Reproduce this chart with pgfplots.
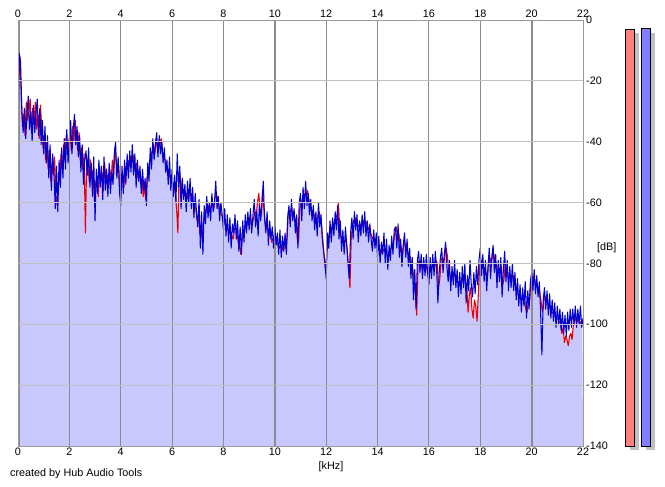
\documentclass[border=0pt]{standalone}
\usepackage{fontspec}
\setmainfont{Liberation Sans}
\usepackage{pgfplots}
\usepackage{pgfplotstable}
\pgfplotsset{compat=1.18}
\definecolor{lav}{RGB}{200,200,255}
\definecolor{bl}{RGB}{0,0,210}
\definecolor{rd}{RGB}{240,0,0}
\definecolor{gridv}{RGB}{140,140,140}
\definecolor{gridh}{RGB}{192,192,192}
\definecolor{barr}{RGB}{255,128,128}
\definecolor{barb}{RGB}{128,128,255}
\definecolor{shad}{RGB}{192,192,192}

\pgfplotstableread[row sep=\\]{
f db\\
0 -36\\ 0.05 -11\\ 0.1 -14\\ 0.15 -30\\ 0.2 -37\\ 0.25 -29\\ 0.3 -39\\ 0.35 -31\\ 0.4 -25\\ 0.45 -36\\
0.5 -30\\ 0.55 -40\\ 0.6 -28\\ 0.65 -37\\ 0.7 -31\\ 0.75 -26\\ 0.8 -38\\ 0.85 -29\\ 0.9 -41\\ 0.95 -33\\
1.0 -44\\ 1.05 -35\\ 1.1 -47\\ 1.15 -38\\ 1.2 -52\\ 1.25 -41\\ 1.3 -56\\ 1.35 -44\\ 1.4 -50\\ 1.45 -62\\
1.5 -48\\ 1.55 -63\\ 1.6 -46\\ 1.65 -55\\ 1.7 -42\\ 1.75 -52\\ 1.8 -39\\ 1.85 -49\\ 1.9 -36\\ 1.95 -47\\
2.0 -40\\ 2.05 -33\\ 2.1 -44\\ 2.15 -36\\ 2.2 -31\\ 2.25 -41\\ 2.3 -35\\ 2.35 -45\\ 2.4 -38\\ 2.45 -50\\
2.5 -41\\ 2.55 -54\\ 2.6 -46\\ 2.65 -43\\ 2.7 -51\\ 2.75 -42\\ 2.8 -55\\ 2.85 -47\\ 2.9 -58\\ 2.95 -45\\
3.0 -66\\ 3.05 -49\\ 3.1 -57\\ 3.15 -46\\ 3.2 -55\\ 3.25 -48\\ 3.3 -59\\ 3.35 -45\\ 3.4 -56\\ 3.45 -49\\
3.5 -58\\ 3.55 -47\\ 3.6 -57\\ 3.65 -50\\ 3.7 -54\\ 3.75 -44\\ 3.8 -40\\ 3.85 -52\\ 3.9 -45\\ 3.95 -56\\
4.0 -61\\ 4.05 -48\\ 4.1 -57\\ 4.15 -46\\ 4.2 -54\\ 4.25 -44\\ 4.3 -52\\ 4.35 -43\\ 4.4 -50\\ 4.45 -41\\
4.5 -51\\ 4.55 -44\\ 4.6 -55\\ 4.65 -46\\ 4.7 -53\\ 4.75 -48\\ 4.8 -57\\ 4.85 -49\\ 4.9 -56\\ 4.95 -52\\
5.0 -61\\ 5.05 -47\\ 5.1 -53\\ 5.15 -42\\ 5.2 -49\\ 5.25 -39\\ 5.3 -46\\ 5.35 -41\\ 5.4 -37\\ 5.45 -45\\
5.5 -38\\ 5.55 -44\\ 5.6 -40\\ 5.65 -47\\ 5.7 -42\\ 5.75 -50\\ 5.8 -46\\ 5.85 -54\\ 5.9 -45\\ 5.95 -56\\
6.0 -49\\ 6.05 -58\\ 6.1 -51\\ 6.15 -60\\ 6.2 -44\\ 6.25 -55\\ 6.3 -48\\ 6.35 -62\\ 6.4 -52\\ 6.45 -59\\
6.5 -54\\ 6.55 -63\\ 6.6 -53\\ 6.65 -60\\ 6.7 -52\\ 6.75 -62\\ 6.8 -55\\ 6.85 -65\\ 6.9 -57\\ 6.95 -63\\
7.0 -68\\ 7.05 -59\\ 7.1 -75\\ 7.15 -63\\ 7.2 -77\\ 7.25 -61\\ 7.3 -67\\ 7.35 -58\\ 7.4 -65\\ 7.45 -60\\
7.5 -66\\ 7.55 -57\\ 7.6 -63\\ 7.65 -60\\ 7.7 -53\\ 7.75 -62\\ 7.8 -58\\ 7.85 -66\\ 7.9 -60\\ 7.95 -64\\
8.0 -69\\ 8.05 -62\\ 8.1 -71\\ 8.15 -64\\ 8.2 -73\\ 8.25 -65\\ 8.3 -75\\ 8.35 -67\\ 8.4 -70\\ 8.45 -64\\
8.5 -72\\ 8.55 -66\\ 8.6 -76\\ 8.65 -68\\ 8.7 -77\\ 8.75 -66\\ 8.8 -73\\ 8.85 -64\\ 8.9 -70\\ 8.95 -63\\
9.0 -69\\ 9.05 -62\\ 9.1 -70\\ 9.15 -64\\ 9.2 -59\\ 9.25 -68\\ 9.3 -63\\ 9.35 -71\\ 9.4 -61\\ 9.45 -66\\
9.5 -60\\ 9.55 -53\\ 9.6 -65\\ 9.65 -70\\ 9.7 -63\\ 9.75 -74\\ 9.8 -66\\ 9.85 -72\\ 9.9 -68\\ 9.95 -75\\
10.0 -68\\ 10.05 -74\\ 10.1 -70\\ 10.15 -77\\ 10.2 -69\\ 10.25 -78\\ 10.3 -71\\ 10.35 -76\\ 10.4 -70\\ 10.45 -77\\
10.5 -65\\ 10.55 -61\\ 10.6 -68\\ 10.65 -59\\ 10.7 -66\\ 10.75 -62\\ 10.8 -70\\ 10.85 -64\\ 10.9 -75\\ 10.95 -60\\
11.0 -57\\ 11.05 -66\\ 11.1 -55\\ 11.15 -62\\ 11.2 -53\\ 11.25 -61\\ 11.3 -57\\ 11.35 -64\\ 11.4 -59\\ 11.45 -66\\
11.5 -61\\ 11.55 -69\\ 11.6 -63\\ 11.65 -71\\ 11.7 -60\\ 11.75 -68\\ 11.8 -64\\ 11.85 -72\\ 11.9 -76\\ 11.95 -80\\
12.0 -85\\ 12.05 -70\\ 12.1 -75\\ 12.15 -66\\ 12.2 -73\\ 12.25 -65\\ 12.3 -71\\ 12.35 -63\\ 12.4 -69\\ 12.45 -61\\
12.5 -72\\ 12.55 -66\\ 12.6 -76\\ 12.65 -69\\ 12.7 -77\\ 12.75 -68\\ 12.8 -74\\ 12.85 -80\\ 12.9 -85\\ 12.95 -70\\
13.0 -65\\ 13.05 -72\\ 13.1 -63\\ 13.15 -69\\ 13.2 -64\\ 13.25 -73\\ 13.3 -66\\ 13.35 -71\\ 13.4 -64\\ 13.45 -70\\
13.5 -63\\ 13.55 -71\\ 13.6 -66\\ 13.65 -73\\ 13.7 -67\\ 13.75 -72\\ 13.8 -76\\ 13.85 -69\\ 13.9 -75\\ 13.95 -70\\
14.0 -78\\ 14.05 -71\\ 14.1 -80\\ 14.15 -73\\ 14.2 -77\\ 14.25 -70\\ 14.3 -80\\ 14.35 -72\\ 14.4 -82\\ 14.45 -74\\
14.5 -79\\ 14.55 -71\\ 14.6 -77\\ 14.65 -69\\ 14.7 -68\\ 14.75 -75\\ 14.8 -67\\ 14.85 -78\\ 14.9 -72\\ 14.95 -81\\
15.0 -74\\ 15.05 -70\\ 15.1 -78\\ 15.15 -72\\ 15.2 -81\\ 15.25 -75\\ 15.3 -85\\ 15.35 -78\\ 15.4 -92\\ 15.45 -82\\
15.5 -95\\ 15.55 -79\\ 15.6 -76\\ 15.65 -83\\ 15.7 -77\\ 15.75 -85\\ 15.8 -78\\ 15.85 -84\\ 15.9 -77\\ 15.95 -83\\
16.0 -87\\ 16.05 -78\\ 16.1 -85\\ 16.15 -77\\ 16.2 -84\\ 16.25 -76\\ 16.3 -82\\ 16.35 -93\\ 16.4 -83\\ 16.45 -78\\
16.5 -75\\ 16.55 -83\\ 16.6 -77\\ 16.65 -73\\ 16.7 -81\\ 16.75 -86\\ 16.8 -79\\ 16.85 -89\\ 16.9 -81\\ 16.95 -87\\
17.0 -79\\ 17.05 -88\\ 17.1 -82\\ 17.15 -91\\ 17.2 -83\\ 17.25 -90\\ 17.3 -81\\ 17.35 -88\\ 17.4 -80\\ 17.45 -93\\
17.5 -84\\ 17.55 -89\\ 17.6 -79\\ 17.65 -87\\ 17.7 -91\\ 17.75 -83\\ 17.8 -90\\ 17.85 -81\\ 17.9 -87\\ 17.95 -79\\
18.0 -75\\ 18.05 -84\\ 18.1 -77\\ 18.15 -86\\ 18.2 -79\\ 18.25 -89\\ 18.3 -81\\ 18.35 -75\\ 18.4 -85\\ 18.45 -78\\
18.5 -74\\ 18.55 -83\\ 18.6 -77\\ 18.65 -88\\ 18.7 -79\\ 18.75 -86\\ 18.8 -78\\ 18.85 -91\\ 18.9 -82\\ 18.95 -76\\
19.0 -86\\ 19.05 -79\\ 19.1 -89\\ 19.15 -81\\ 19.2 -88\\ 19.25 -80\\ 19.3 -89\\ 19.35 -83\\ 19.4 -92\\ 19.45 -85\\
19.5 -94\\ 19.55 -87\\ 19.6 -96\\ 19.65 -88\\ 19.7 -94\\ 19.75 -86\\ 19.8 -98\\ 19.85 -89\\ 19.9 -95\\ 19.95 -86\\
20.0 -83\\ 20.05 -89\\ 20.1 -82\\ 20.15 -90\\ 20.2 -84\\ 20.25 -91\\ 20.3 -86\\ 20.35 -96\\ 20.4 -110\\ 20.45 -92\\
20.5 -88\\ 20.55 -95\\ 20.6 -89\\ 20.65 -97\\ 20.7 -90\\ 20.75 -98\\ 20.8 -92\\ 20.85 -99\\ 20.9 -93\\ 20.95 -101\\
21.0 -94\\ 21.05 -100\\ 21.1 -95\\ 21.15 -102\\ 21.2 -96\\ 21.25 -103\\ 21.3 -97\\ 21.35 -104\\ 21.4 -96\\ 21.45 -102\\
21.5 -95\\ 21.55 -101\\ 21.6 -95\\ 21.65 -100\\ 21.7 -94\\ 21.75 -101\\ 21.8 -95\\ 21.85 -100\\ 21.9 -94\\ 21.95 -101\\
22.0 -98\\
}\bluedata

\pgfplotstableread[row sep=\\]{
f db\\
0.025 -20\\ 0.075 -12\\ 0.125 -24\\ 0.175 -35\\ 0.225 -31\\ 0.275 -38\\ 0.325 -27\\ 0.375 -33\\ 0.425 -30\\ 0.475 -26\\
0.525 -37\\ 0.575 -29\\ 0.625 -34\\ 0.675 -27\\ 0.725 -36\\ 0.775 -31\\ 0.825 -39\\ 0.875 -28\\ 0.925 -36\\ 0.975 -42\\
1.025 -38\\ 1.075 -46\\ 1.125 -40\\ 1.175 -49\\ 1.225 -43\\ 1.275 -53\\ 1.325 -47\\ 1.375 -51\\ 1.425 -45\\ 1.475 -58\\
1.525 -61\\ 1.575 -50\\ 1.625 -53\\ 1.675 -44\\ 1.725 -50\\ 1.775 -41\\ 1.825 -46\\ 1.875 -38\\ 1.925 -44\\ 1.975 -40\\
2.025 -37\\ 2.075 -43\\ 2.125 -35\\ 2.175 -40\\ 2.225 -33\\ 2.275 -38\\ 2.325 -43\\ 2.375 -37\\ 2.425 -46\\ 2.475 -42\\
2.525 -49\\ 2.575 -44\\ 2.625 -70\\ 2.675 -45\\ 2.725 -48\\ 2.775 -53\\ 2.825 -46\\ 2.875 -52\\ 2.925 -49\\ 2.975 -60\\
3.025 -54\\ 3.075 -51\\ 3.125 -58\\ 3.175 -48\\ 3.225 -53\\ 3.275 -50\\ 3.325 -56\\ 3.375 -47\\ 3.425 -54\\ 3.475 -51\\
3.525 -55\\ 3.575 -49\\ 3.625 -53\\ 3.675 -46\\ 3.725 -51\\ 3.775 -42\\ 3.825 -47\\ 3.875 -50\\ 3.925 -48\\ 3.975 -58\\
4.025 -54\\ 4.075 -50\\ 4.125 -55\\ 4.175 -48\\ 4.225 -51\\ 4.275 -46\\ 4.325 -48\\ 4.375 -45\\ 4.425 -47\\ 4.475 -44\\
4.525 -48\\ 4.575 -50\\ 4.625 -47\\ 4.675 -52\\ 4.725 -50\\ 4.775 -54\\ 4.825 -52\\ 4.875 -58\\ 4.925 -55\\ 4.975 -59\\
5.025 -52\\ 5.075 -50\\ 5.125 -46\\ 5.175 -45\\ 5.225 -43\\ 5.275 -41\\ 5.325 -44\\ 5.375 -39\\ 5.425 -42\\ 5.475 -40\\
5.525 -41\\ 5.575 -39\\ 5.625 -43\\ 5.675 -45\\ 5.725 -46\\ 5.775 -48\\ 5.825 -51\\ 5.875 -49\\ 5.925 -52\\ 5.975 -53\\
6.025 -55\\ 6.075 -54\\ 6.125 -57\\ 6.175 -62\\ 6.225 -70\\ 6.275 -50\\ 6.325 -52\\ 6.375 -55\\ 6.425 -57\\ 6.475 -56\\
6.525 -58\\ 6.575 -57\\ 6.625 -59\\ 6.675 -56\\ 6.725 -58\\ 6.775 -57\\ 6.825 -60\\ 6.875 -61\\ 6.925 -62\\ 6.975 -66\\
7.025 -64\\ 7.075 -70\\ 7.125 -68\\ 7.175 -72\\ 7.225 -66\\ 7.275 -64\\ 7.325 -62\\ 7.375 -63\\ 7.425 -61\\ 7.475 -62\\
7.525 -61\\ 7.575 -60\\ 7.625 -62\\ 7.675 -58\\ 7.725 -57\\ 7.775 -59\\ 7.825 -61\\ 7.875 -63\\ 7.925 -64\\ 7.975 -65\\
8.025 -66\\ 8.075 -67\\ 8.125 -68\\ 8.175 -69\\ 8.225 -70\\ 8.275 -69\\ 8.325 -71\\ 8.375 -72\\ 8.425 -69\\ 8.475 -68\\
8.525 -70\\ 8.575 -73\\ 8.625 -74\\ 8.675 -77\\ 8.725 -72\\ 8.775 -70\\ 8.825 -69\\ 8.875 -68\\ 8.925 -67\\ 8.975 -66\\
9.025 -65\\ 9.075 -66\\ 9.125 -67\\ 9.175 -65\\ 9.225 -63\\ 9.275 -64\\ 9.325 -60\\ 9.375 -57\\ 9.425 -62\\ 9.475 -64\\
9.525 -56\\ 9.575 -62\\ 9.625 -67\\ 9.675 -68\\ 9.725 -69\\ 9.775 -71\\ 9.825 -70\\ 9.875 -73\\ 9.925 -72\\ 9.975 -71\\
10.025 -72\\ 10.075 -73\\ 10.125 -74\\ 10.175 -75\\ 10.225 -74\\ 10.275 -76\\ 10.325 -74\\ 10.375 -73\\ 10.425 -75\\ 10.475 -72\\
10.525 -63\\ 10.575 -64\\ 10.625 -62\\ 10.675 -63\\ 10.725 -64\\ 10.775 -65\\ 10.825 -66\\ 10.875 -72\\ 10.925 -73\\ 10.975 -62\\
11.025 -60\\ 11.075 -59\\ 11.125 -58\\ 11.175 -57\\ 11.225 -58\\ 11.275 -56\\ 11.325 -59\\ 11.375 -61\\ 11.425 -62\\ 11.475 -63\\
11.525 -64\\ 11.575 -65\\ 11.625 -66\\ 11.675 -65\\ 11.725 -63\\ 11.775 -65\\ 11.825 -68\\ 11.875 -73\\ 11.925 -78\\ 11.975 -82\\
12.025 -76\\ 12.075 -72\\ 12.125 -70\\ 12.175 -69\\ 12.225 -68\\ 12.275 -67\\ 12.325 -66\\ 12.375 -65\\ 12.425 -64\\ 12.475 -60\\
12.525 -68\\ 12.575 -71\\ 12.625 -73\\ 12.675 -72\\ 12.725 -73\\ 12.775 -72\\ 12.825 -76\\ 12.875 -82\\ 12.925 -88\\ 12.975 -72\\
13.025 -67\\ 13.075 -66\\ 13.125 -65\\ 13.175 -66\\ 13.225 -67\\ 13.275 -68\\ 13.325 -67\\ 13.375 -68\\ 13.425 -66\\ 13.475 -67\\
13.525 -66\\ 13.575 -67\\ 13.625 -68\\ 13.675 -69\\ 13.725 -70\\ 13.775 -71\\ 13.825 -72\\ 13.875 -73\\ 13.925 -72\\ 13.975 -74\\
14.025 -75\\ 14.075 -76\\ 14.125 -77\\ 14.175 -75\\ 14.225 -76\\ 14.275 -75\\ 14.325 -76\\ 14.375 -77\\ 14.425 -78\\ 14.475 -76\\
14.525 -75\\ 14.575 -74\\ 14.625 -73\\ 14.675 -70\\ 14.725 -68\\ 14.775 -71\\ 14.825 -70\\ 14.875 -73\\ 14.925 -75\\ 14.975 -77\\
15.025 -73\\ 15.075 -74\\ 15.125 -75\\ 15.175 -76\\ 15.225 -77\\ 15.275 -78\\ 15.325 -80\\ 15.375 -82\\ 15.425 -86\\ 15.475 -90\\
15.525 -97\\ 15.575 -80\\ 15.625 -79\\ 15.675 -80\\ 15.725 -81\\ 15.775 -80\\ 15.825 -81\\ 15.875 -80\\ 15.925 -82\\ 15.975 -84\\
16.025 -83\\ 16.075 -82\\ 16.125 -81\\ 16.175 -80\\ 16.225 -81\\ 16.275 -79\\ 16.325 -80\\ 16.375 -88\\ 16.425 -85\\ 16.475 -79\\
16.525 -78\\ 16.575 -80\\ 16.625 -77\\ 16.675 -75\\ 16.725 -78\\ 16.775 -83\\ 16.825 -84\\ 16.875 -85\\ 16.925 -84\\ 16.975 -83\\
17.025 -84\\ 17.075 -85\\ 17.125 -86\\ 17.175 -87\\ 17.225 -86\\ 17.275 -86\\ 17.325 -85\\ 17.375 -84\\ 17.425 -86\\ 17.475 -88\\
17.525 -96\\ 17.575 -90\\ 17.625 -88\\ 17.675 -95\\ 17.725 -98\\ 17.775 -92\\ 17.825 -94\\ 17.875 -99\\ 17.925 -90\\ 17.975 -81\\
18.025 -79\\ 18.075 -80\\ 18.125 -81\\ 18.175 -82\\ 18.225 -83\\ 18.275 -85\\ 18.325 -80\\ 18.375 -78\\ 18.425 -80\\ 18.475 -77\\
18.525 -77\\ 18.575 -79\\ 18.625 -80\\ 18.675 -84\\ 18.725 -82\\ 18.775 -82\\ 18.825 -81\\ 18.875 -87\\ 18.925 -85\\ 18.975 -80\\
19.025 -82\\ 19.075 -84\\ 19.125 -85\\ 19.175 -84\\ 19.225 -85\\ 19.275 -84\\ 19.325 -86\\ 19.375 -88\\ 19.425 -89\\ 19.475 -90\\
19.525 -91\\ 19.575 -92\\ 19.625 -91\\ 19.675 -92\\ 19.725 -93\\ 19.775 -95\\ 19.825 -96\\ 19.875 -93\\ 19.925 -92\\ 19.975 -85\\
20.025 -84\\ 20.075 -85\\ 20.125 -86\\ 20.175 -87\\ 20.225 -88\\ 20.275 -88\\ 20.325 -90\\ 20.375 -93\\ 20.425 -96\\ 20.475 -92\\
20.525 -91\\ 20.575 -92\\ 20.625 -93\\ 20.675 -94\\ 20.725 -95\\ 20.775 -96\\ 20.825 -96\\ 20.875 -97\\ 20.925 -97\\ 20.975 -98\\
21.025 -98\\ 21.075 -99\\ 21.125 -100\\ 21.175 -103\\ 21.225 -101\\ 21.275 -106\\ 21.325 -104\\ 21.375 -105\\ 21.425 -107\\ 21.475 -104\\
21.525 -103\\ 21.575 -105\\ 21.625 -100\\ 21.675 -99\\ 21.725 -98\\ 21.775 -99\\ 21.825 -98\\ 21.875 -100\\ 21.925 -99\\ 21.975 -100\\
}\reddata

\begin{document}
\begin{tikzpicture}[font=\fontsize{10.8}{12}\selectfont]
\path[use as bounding box] (0pt,0pt) rectangle (665pt,487pt);
% level bars (decoration)
\fill[shad] (629.5pt,36.5pt) rectangle (638.5pt,453.5pt);
\fill[shad] (645.5pt,36.5pt) rectangle (655pt,453.5pt);
\filldraw[fill=barr, draw=black, line width=0.8pt] (625pt,41pt) rectangle (634pt,458pt);
\filldraw[fill=barb, draw=black, line width=0.8pt] (641pt,41pt) rectangle (650.5pt,459pt);

\begin{axis}[
  at={(18pt,41pt)}, anchor=south west,
  scale only axis, width=565pt, height=426pt,
  xmin=0, xmax=22, ymin=-140, ymax=0,
  xtick={0,2,...,22}, ytick={-140,-120,...,0},
  xticklabel pos=lower, yticklabel pos=right,
  major tick length=0pt,
  xmajorgrids, ymajorgrids,
  major x grid style={draw=gridv, line width=0.9pt},
  major y grid style={draw=gridh, line width=0.9pt},
  axis on top,
  axis line style={draw=gridh!80!black, line width=0.8pt},
  /pgf/number format/assume math mode=true,
  xticklabel style={font=\fontsize{10.8}{12}\selectfont, inner sep=2pt},
  yticklabel style={font=\fontsize{10.8}{12}\selectfont, anchor=west, inner sep=3pt},
]
\addplot[fill=lav, draw=none, forget plot] table[x=f, y=db] {\reddata}
  -- (axis cs:22,-140) -- (axis cs:0,-140) -- cycle;
\addplot[gridv, line width=2.2pt, forget plot] coordinates {(10,-140) (10,0)};
\addplot[gridv, line width=2.2pt, forget plot] coordinates {(20,-140) (20,0)};
\addplot[gridv, line width=4pt, forget plot] coordinates {(0,-140) (0,0)};
\addplot[rd, line width=1.1pt, line join=round] table[x=f, y=db] {\reddata};
\addplot[bl, line width=1.05pt, line join=round] table[x=f, y=db] {\bluedata};
\end{axis}

\begin{axis}[
  at={(18pt,41pt)}, anchor=south west,
  scale only axis, width=565pt, height=426pt,
  xmin=0, xmax=22, ymin=-140, ymax=0,
  xtick={0,2,...,22}, ytick={-140,-120,...,0},
  xticklabel pos=upper, yticklabels={},
  major tick length=0pt,
  axis line style={draw=none},
  /pgf/number format/assume math mode=true,
  xticklabel style={font=\fontsize{10.8}{12}\selectfont, inner sep=2pt},
]
\addplot[draw=none, forget plot] coordinates {(1,-50) (2,-60)};
\end{axis}

\node[anchor=west, inner sep=0pt] at (597pt,239pt) {[dB]};
\node[inner sep=0pt] at (331pt,20pt) {[kHz]};
\node[anchor=west, inner sep=0pt] at (10pt,13pt) {created by Hub Audio Tools};
\end{tikzpicture}
\end{document}
